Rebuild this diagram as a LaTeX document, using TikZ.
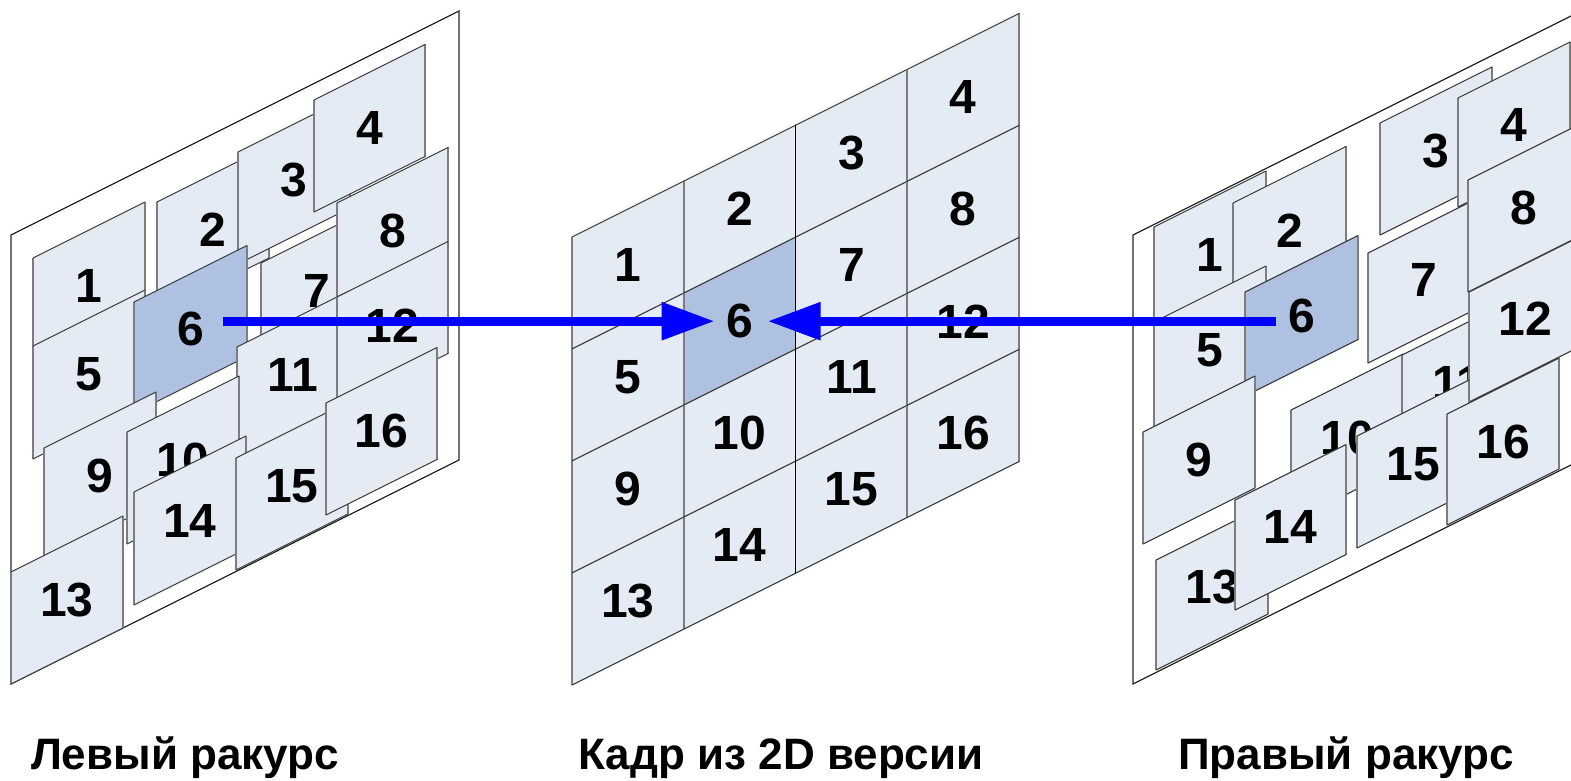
\documentclass[tikz,border=0pt]{standalone}
\usepackage{fontspec}
\setmainfont{Liberation Sans}
\usetikzlibrary{arrows.meta}

\definecolor{tilefill}{RGB}{229,235,245}
\definecolor{tilehi}{RGB}{174,193,225}
\definecolor{slantedge}{RGB}{60,60,60}
\definecolor{sideedge}{RGB}{125,125,125}
\definecolor{arrowblue}{RGB}{0,0,255}

\tikzset{
  tilebody/.style={fill=tilefill},
  hitile/.style={fill=tilehi},
  sedge/.style={draw=slantedge, line width=1.1pt, line cap=round},
  vedge/.style={draw=sideedge, line width=1.6pt},
  framebox/.style={fill=white, draw=black!85, line width=1.3pt},
  numlbl/.style={font=\fontsize{48}{48}\selectfont\bfseries, inner sep=0pt},
  caption/.style={font=\fontsize{44}{44}\selectfont\bfseries, anchor=base, inner sep=0pt},
  viewarrow/.style={draw=arrowblue, line width=9pt, -{Triangle[length=53pt,width=36pt]}},
}

% \tile[style]{node name}{number}{x}{y}{width}{height}
% (x,y) is the top-left corner; the top and bottom edges rise by half the width.
\newcommand\tile[7][]{%
  \fill[tilebody,#1] (#4,#5) -- ++(#6,-#6/2) -- ++(0,#7) -- ++(-#6,#6/2) -- cycle;
  \draw[vedge] (#4,#5) -- ++(0,#7) (#4+#6,#5-#6/2) -- ++(0,#7);
  \draw[sedge] (#4,#5) -- ++(#6,-#6/2) (#4,#5+#7) -- ++(#6,-#6/2);
  \node[numlbl] (#2) at (#4+#6/2, #5+#7/2-#6/4) {#3};
}

\begin{document}
\begin{tikzpicture}[x=1pt, y=-1pt]
\useasboundingbox (0,0) rectangle (1571,781);
\clip (0,0) rectangle (1571,781);

% ---------- left view ----------
\draw[framebox] (11,235) -- ++(448,-224) -- ++(0,449) -- ++(-448,224) -- cycle;
\tile{L1}{1}{33}{258}{112}{112}
\tile{L5}{5}{33}{346}{112}{113}
\tile{L2}{2}{157}{202}{112}{112}
\tile{L3}{3}{238}{152}{112}{112}
\tile{L4}{4}{314}{100}{111}{112}
\tile{L7}{7}{261}{263}{112}{112}
\tile{L8}{8}{337}{203}{111}{112}
\tile[hitile]{L6}{6}{134}{302}{113}{111}
\tile{L11}{11}{237}{347}{112}{112}
\tile{L12}{12}{337}{297}{111}{112}
\tile{L9}{9}{44}{448}{112}{112}
\tile{L10}{10}{127}{432}{112}{112}
\tile{L14}{14}{134}{492}{112}{113}
\tile{L15}{15}{236}{458}{112}{112}
\tile{L16}{16}{326}{403}{111}{112}
\tile{L13}{13}{11}{572}{112}{112}

% ---------- frame of the 2D version ----------
\foreach \r in {0,...,3}{%
  \foreach \c in {0,...,3}{%
    \pgfmathtruncatemacro\n{4*\r+\c+1}%
    \pgfmathsetmacro\cx{572+111.75*\c}%
    \pgfmathsetmacro\cy{237+112*\r-55.875*\c}%
    \ifnum\n=6
      \tile[hitile]{C\n}{\n}{\cx}{\cy}{111.75}{112}%
    \else
      \tile{C\n}{\n}{\cx}{\cy}{111.75}{112}%
    \fi
  }%
}
\draw[sedge, draw=black, line width=1.3pt] (C3.center) ++(-55.875,-56+27.9) -- ++(0,448);

% ---------- right view ----------
\draw[framebox] (1133,235) -- ++(448,-224) -- ++(0,449) -- ++(-448,224) -- cycle;
\tile{R1}{1}{1154}{227}{112}{112}
\tile{R2}{2}{1233}{203}{113}{112}
\tile{R5}{5}{1154}{322}{112}{112}
\tile[hitile]{R6}{6}{1245}{292}{113}{104}
\tile{R3}{3}{1380}{123}{112}{112}
\tile{R4}{4}{1458}{98}{112}{109}
\tile{R7}{7}{1368}{253}{112}{110}
\tile{R10}{10}{1291}{410}{112}{112}
\tile{R11}{11}{1402}{355}{112}{112}
\tile{R8}{8}{1468}{180}{112}{112}
\tile{R12}{12}{1469}{292}{112}{110}
\tile{R9}{9}{1143}{432}{112}{112}
\tile{R13}{13}{1156}{560}{112}{110}
\tile{R14}{14}{1235}{500}{111}{110}
\tile{R15}{15}{1357}{436}{112}{112}
\tile{R16}{16}{1447}{414}{112}{111}

% ---------- arrows to tile 6 ----------
\draw[viewarrow, shorten <=32pt, shorten >=25pt] (L6.center |- C6.center) -- (C6.center);
\draw[viewarrow, shorten <=26pt, shorten >=28pt] (R6.center |- C6.center) -- (C6.center);

% ---------- captions ----------
\node[caption] (capL) at (185,769) {Левый ракурс};
\node[caption] (capC) at (781,769) {Кадр из 2D версии};
\node[caption] (capR) at (1346,769) {Правый ракурс};
\end{tikzpicture}
\end{document}
